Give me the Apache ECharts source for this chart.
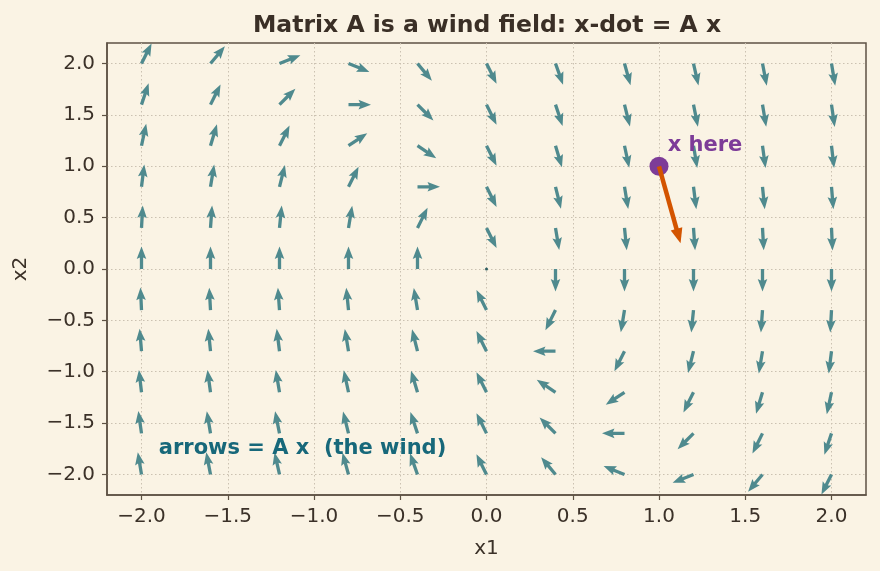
<!doctype html>
<html>
<head>
<meta charset="utf-8">
<title>Matrix A wind field</title>
<script src="https://cdn.jsdelivr.net/npm/echarts@6/dist/echarts.min.js"></script>
<style>
  html, body { margin: 0; padding: 0; background: #faf3e4; }
  #chart { width: 880px; height: 571px; }
</style>
</head>
<body>
<div id="chart"></div>
<script>
// grid of sample points (x1, x2)
var x1Grid = [-2.0, -1.6, -1.2, -0.8, -0.4, 0.0, 0.4, 0.8, 1.2, 1.6, 2.0];
var x2Grid = [-2.0, -1.6, -1.2, -0.8, -0.4, 0.0, 0.4, 0.8, 1.2, 1.6, 2.0];
// the matrix A, row by row
var aRow1 = [0, 0.5];
var aRow2 = [-2, -1];
// the marked point and how long its orange arrow is (fraction of A x)
var xPoint = [1, 1];
var windScale = 0.25;
var xHereLabelPos = [1.05, 1.1];
var windLabelPos = [-1.9, -1.75];
var tickVals = [-2.0, -1.5, -1.0, -0.5, 0.0, 0.5, 1.0, 1.5, 2.0];

var FONT = 'DejaVu Sans';
var INK = '#3b3128';
var FRAME = '#5e5244';
var ARROW = '#4f8a8e';

function ax(p) {
  return [aRow1[0] * p[0] + aRow1[1] * p[1], aRow2[0] * p[0] + aRow2[1] * p[1]];
}

var quiverData = [];
for (var i = 0; i < x1Grid.length; i++) {
  for (var j = 0; j < x2Grid.length; j++) {
    var w = ax([x1Grid[i], x2Grid[j]]);
    quiverData.push([x1Grid[i], x2Grid[j], w[0], w[1]]);
  }
}
var wx = ax(xPoint);
var windTip = [xPoint[0] + windScale * wx[0], xPoint[1] + windScale * wx[1]];

function fmt(v) {
  var s = Math.abs(v).toFixed(1);
  return v < -1e-9 ? '\u2212' + s : s;
}

// quiver arrows, normalised, drawn from the tail
function renderQuiver(params, api) {
  var p = api.coord([api.value(0), api.value(1)]);
  var u = api.value(2), v = api.value(3);
  var m = Math.sqrt(u * u + v * v);
  if (m < 1e-9) {
    return { type: 'circle', shape: { cx: p[0], cy: p[1], r: 1.5 }, style: { fill: '#2f5f62' } };
  }
  var dx = u / m, dy = -v / m, nx = -dy, ny = dx;
  var L = 22.5, sw = 3.3, hl = 12.5, ha = 11, hw = 9.6;
  function pt(a, b) { return [p[0] + dx * a + nx * b, p[1] + dy * a + ny * b]; }
  return {
    type: 'polygon',
    shape: { points: [pt(0, sw / 2), pt(L - ha, sw / 2), pt(L - hl, hw / 2), pt(L, 0),
                      pt(L - hl, -hw / 2), pt(L - ha, -sw / 2), pt(0, -sw / 2)] },
    style: { fill: ARROW }
  };
}

function renderWind(params, api) {
  var a = api.coord([api.value(0), api.value(1)]);
  var b = api.coord([api.value(2), api.value(3)]);
  var ddx = b[0] - a[0], ddy = b[1] - a[1];
  var len = Math.sqrt(ddx * ddx + ddy * ddy);
  var dx = ddx / len, dy = ddy / len, nx = -dy, ny = dx;
  var hl = 15, hw = 6;
  var base = [b[0] - dx * hl, b[1] - dy * hl];
  return {
    type: 'group',
    children: [
      { type: 'line', shape: { x1: a[0], y1: a[1], x2: base[0] + dx * 2, y2: base[1] + dy * 2 },
        style: { stroke: '#d35400', lineWidth: 4.5 } },
      { type: 'polygon', shape: { points: [[b[0], b[1]], [base[0] + nx * hw, base[1] + ny * hw], [base[0] - nx * hw, base[1] - ny * hw]] },
        style: { fill: '#d35400' } }
    ]
  };
}

function renderText(params, api) {
  var p = api.coord([api.value(0), api.value(1)]);
  var item = textItems[params.dataIndex];
  return {
    type: 'text',
    style: {
      x: p[0], y: p[1], text: item.text, fill: item.color,
      font: 'bold ' + item.size + 'px "' + FONT + '"',
      align: 'left', verticalAlign: item.va
    }
  };
}

var textItems = [
  { text: 'x here', color: '#7d3c98', size: 21, va: 'bottom' },
  { text: 'arrows = A x  (the wind)', color: '#17687a', size: 21, va: 'middle' }
];

var chart = echarts.init(document.getElementById('chart'), null, { renderer: 'canvas' });
chart.setOption({
  backgroundColor: '#faf3e4',
  animation: false,
  title: {
    text: 'Matrix A is a wind field: x-dot = A x',
    left: 482, textAlign: 'center', top: 9,
    textStyle: { fontFamily: FONT, fontSize: 23.5, fontWeight: 'bold', color: '#3a2f26' }
  },
  grid: {
    left: 107, top: 43, width: 759, height: 452,
    show: true, borderColor: FRAME, borderWidth: 1.5, backgroundColor: '#faf3e4'
  },
  xAxis: {
    type: 'value', min: -2.2, max: 2.2,
    name: 'x1', nameLocation: 'middle', nameGap: 44,
    nameTextStyle: { fontFamily: FONT, fontSize: 20, color: INK },
    axisLine: { show: true, onZero: false, lineStyle: { color: FRAME, width: 1.5 } },
    axisTick: { show: true, length: 5, lineStyle: { color: FRAME, width: 1.2 }, customValues: tickVals },
    axisLabel: { fontFamily: FONT, fontSize: 20, color: INK, margin: 12, customValues: tickVals, formatter: fmt },
    splitLine: { show: true, lineStyle: { color: '#cbc1b1', width: 1, type: [1.5, 2.5] } }
  },
  yAxis: {
    type: 'value', min: -2.2, max: 2.2,
    name: 'x2', nameLocation: 'middle', nameGap: 76, nameRotate: 90,
    nameTextStyle: { fontFamily: FONT, fontSize: 20, color: INK },
    axisLine: { show: true, onZero: false, lineStyle: { color: FRAME, width: 1.5 } },
    axisTick: { show: true, length: 5, lineStyle: { color: FRAME, width: 1.2 }, customValues: tickVals },
    axisLabel: { fontFamily: FONT, fontSize: 20, color: INK, margin: 12, customValues: tickVals, formatter: fmt },
    splitLine: { show: true, lineStyle: { color: '#cbc1b1', width: 1, type: [1.5, 2.5] } }
  },
  series: [
    { type: 'custom', renderItem: renderQuiver, data: quiverData, z: 3, silent: true },
    { type: 'scatter', data: [xPoint], symbolSize: 19, itemStyle: { color: '#7d3c98', opacity: 1 }, z: 4, silent: true },
    { type: 'custom', renderItem: renderWind, data: [[xPoint[0], xPoint[1], windTip[0], windTip[1]]], z: 5, silent: true },
    { type: 'custom', renderItem: renderText, data: [xHereLabelPos, windLabelPos], z: 6, silent: true }
  ]
});
</script>
</body>
</html>
